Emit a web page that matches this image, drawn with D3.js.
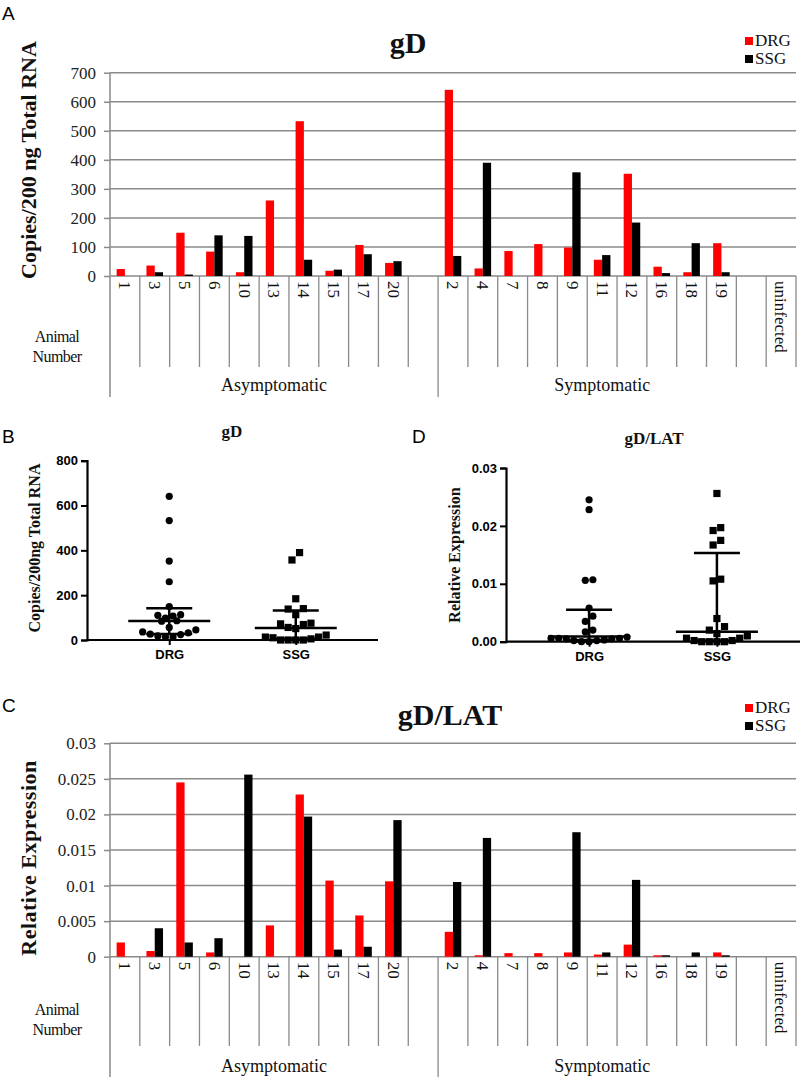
<!DOCTYPE html>
<html><head><meta charset="utf-8">
<script src="https://cdn.jsdelivr.net/npm/d3@7"></script>
<style>
html,body{margin:0;padding:0;background:#fff;}
svg{display:block;}
</style></head>
<body>
<svg id="chart" width="800" height="1077"></svg>
<script>
// ---------- DATA ----------
const animalLabels = ["1","3","5","6","10","13","14","15","17","20","","2","4","7","8","9","11","12","16","18","19","","uninfected"];
const groupNames = ["Asymptomatic","Symptomatic"];
const groupStart = [0, 11];
const groupEnd = [10, 21];
const seriesNames = ["DRG","SSG"];
const seriesColors = ["#ff0000","#000000"];

const gdDRG = [24,36,149,84,13,260,533,18,107,45,null,641,26,86,110,98,56,352,32,13,113,null,null];
const gdSSG = [0,13,5,140,138,0,56,22,75,51,null,69,390,0,0,357,72,184,10,113,13,null,null];
const latDRG = [0.002,0.0008,0.0245,0.0006,0,0.0044,0.0228,0.0107,0.0058,0.0106,null,0.0035,0.0002,0.0005,0.0005,0.0006,0.0003,0.0017,0.0002,0,0.0006,null,null];
const latSSG = [0,0.004,0.002,0.0026,0.0256,0,0.0197,0.001,0.0014,0.0192,null,0.0105,0.0167,0,0,0.0175,0.0006,0.0108,0.0002,0.0006,0.0002,null,null];

const gdTicks = [0,100,200,300,400,500,600,700];
const latTicks = [0,0.005,0.01,0.015,0.02,0.025,0.03];
const gdScatterTicks = [0,200,400,600,800];
const latScatterTicks = [0,0.01,0.02,0.03];

// median / interquartile range
const gdStatsDRG = [27, 85, 142];
const gdStatsSSG = [6, 54, 132];
const latStatsDRG = [0.0003, 0.0009, 0.0055];
const latStatsSSG = [0.0002, 0.0017, 0.0153];

// ---------- DRAW ----------
const svg = d3.select("#chart");
const SERIF = "'Liberation Serif','Times New Roman',serif";
const SANS = "'Liberation Sans',Arial,sans-serif";
const GRID = "#8a8a8a";

function panelLabel(t, x, y){
  svg.append("text").attr("x",x).attr("y",y).text(t)
    .attr("font-family",SANS).attr("font-size",19).attr("fill","#000");
}

function barPanel(o){
  const g = svg.append("g");
  const x = d3.scaleBand().domain(d3.range(animalLabels.length)).range([o.x0,o.x1]).padding(0);
  const xs = d3.scaleBand().domain(seriesNames).range([0,x.bandwidth()]).paddingInner(0).paddingOuter(0.8);
  const y = d3.scaleLinear().domain(o.domain).range([o.y0,o.yTop]);

  g.append("g").selectAll("line").data(o.ticks).join("line")
    .attr("x1",o.x0).attr("x2",o.x1).attr("y1",d=>y(d)).attr("y2",d=>y(d))
    .attr("stroke",GRID).attr("stroke-width",1.5);

  const ax = g.append("g").attr("transform",`translate(${o.x0},0)`)
    .call(d3.axisLeft(y).tickValues(o.ticks).tickSize(6).tickPadding(8).tickFormat(o.fmt));
  ax.attr("font-family",SERIF);
  ax.select(".domain").remove();
  ax.selectAll(".tick line").attr("stroke",GRID).attr("stroke-width",1.5);
  ax.selectAll(".tick text").attr("font-family",SERIF).attr("font-size",17).attr("fill","#222");
  g.append("line").attr("x1",o.x0).attr("x2",o.x0).attr("y1",o.yTop).attr("y2",o.groupBottom)
    .attr("stroke",GRID).attr("stroke-width",1.5);

  [o.drg, o.ssg].forEach((arr,si)=>{
    g.append("g").selectAll("rect").data(arr.map((v,i)=>({v,i})).filter(d=>d.v!==null && d.v>0)).join("rect")
      .attr("x",d=>x(d.i)+xs(seriesNames[si]))
      .attr("width",xs.bandwidth())
      .attr("y",d=>y(d.v))
      .attr("height",d=>y(0)-y(d.v))
      .attr("fill",seriesColors[si]);
  });

  const bounds = d3.range(1,animalLabels.length+1).map(i=> i<animalLabels.length ? x(i) : o.x1);
  g.append("g").selectAll("line").data(bounds).join("line")
    .attr("x1",d=>d).attr("x2",d=>d).attr("y1",o.y0)
    .attr("y2",(d,i)=> (i+1)===groupStart[1] ? o.groupBottom : o.colBottom)
    .attr("stroke",GRID).attr("stroke-width",1.3);

  g.append("g").selectAll("text").data(animalLabels.map((t,i)=>({t,i})).filter(d=>d.t)).join("text")
    .attr("transform",d=>`translate(${x(d.i)+x.bandwidth()/2},${o.y0+5}) rotate(90)`)
    .attr("dy","0.33em").attr("text-anchor","start")
    .attr("font-family",SERIF).attr("font-size",17).attr("fill","#111").text(d=>d.t);

  const an = g.append("text").attr("font-family",SERIF).attr("font-size",16).attr("fill","#111")
    .attr("text-anchor","middle").attr("letter-spacing","-0.6px");
  an.append("tspan").attr("x",57).attr("y",o.animalY).text("Animal");
  an.append("tspan").attr("x",57).attr("y",o.animalY+20).text("Number");

  g.append("g").selectAll("text").data(groupNames).join("text")
    .attr("x",(d,i)=>(x(groupStart[i]) + x(groupEnd[i])+x.bandwidth())/2)
    .attr("y",o.groupY).attr("text-anchor","middle")
    .attr("font-family",SERIF).attr("font-size",18).attr("fill","#111").text(d=>d);

  svg.append("text").attr("x",o.titleX).attr("y",o.titleY).attr("text-anchor","middle")
    .attr("font-family",SERIF).attr("font-weight","bold").attr("font-size",30).attr("fill","#111").text(o.title);

  svg.append("text").attr("transform",`translate(${o.ylabX},${o.ylabY}) rotate(-90)`)
    .attr("text-anchor","middle").attr("font-family",SERIF).attr("font-weight","bold")
    .attr("font-size",o.ylabSize).attr("letter-spacing",o.ylabSpacing||"0px").attr("fill","#111").text(o.ylab);

  const lg = svg.append("g").attr("transform",`translate(745,${o.legendY})`);
  seriesNames.forEach((s,i)=>{
    lg.append("rect").attr("x",0).attr("y",i*18).attr("width",8).attr("height",8).attr("fill",seriesColors[i]);
    lg.append("text").attr("x",10).attr("y",i*18+9).attr("font-family",SERIF).attr("font-size",17)
      .attr("fill","#111").text(s);
  });
}

barPanel({x0:110,x1:796,y0:276,yTop:72.7,domain:[0,700],ticks:gdTicks,fmt:d3.format("d"),
  drg:gdDRG,ssg:gdSSG,colBottom:367,groupBottom:397,animalY:342,groupY:391,
  title:"gD",titleX:408,titleY:53,ylab:"Copies/200 ng Total RNA",ylabX:36,ylabY:160,ylabSize:22,legendY:37});

barPanel({x0:110,x1:796,y0:956.7,yTop:743.3,domain:[0,0.03],ticks:latTicks,fmt:d=>d===0?"0":String(+d.toFixed(3)),
  drg:latDRG,ssg:latSSG,colBottom:1046,groupBottom:1077,animalY:1015,groupY:1072,
  title:"gD/LAT",titleX:450,titleY:725,ylab:"Relative Expression",ylabX:36,ylabY:858,ylabSize:22,ylabSpacing:"0.5px",legendY:704});

// ---------- scatter panels (Prism-like row layout) ----------
function rowLayout(vals, y, D){
  const pts = vals.map(v=>({v, y:y(v), x:0})).sort((a,b)=>a.v-b.v);
  const rows = [];
  let cur = null;
  pts.forEach(p=>{
    if(!cur || cur.y0 - p.y > D){ cur = {y0:p.y, pts:[]}; rows.push(cur); }
    cur.pts.push(p);
  });
  rows.forEach(rw=>{
    const n = rw.pts.length;
    // spread centre-out alternately
    const slots = d3.range(n).map(k=>(k-(n-1)/2)*D).sort((a,b)=>Math.abs(a)-Math.abs(b)||a-b);
    rw.pts.forEach((p,k)=>{ p.x = slots[k]; });
  });
  return pts;
}

function scatterPanel(o){
  const g = svg.append("g");
  const x = d3.scalePoint().domain(seriesNames).range([o.x0,o.x1]).padding(0.65);
  const y = d3.scaleLinear().domain(o.domain).range([o.y0,o.yTop]);
  const ax = g.append("g").attr("transform",`translate(${o.x0},0)`)
    .call(d3.axisLeft(y).tickValues(o.ticks).tickSize(6).tickPadding(3).tickFormat(o.fmt));
  ax.select(".domain").attr("stroke","#000").attr("stroke-width",2.2);
  ax.selectAll(".tick line").attr("stroke","#000").attr("stroke-width",2);
  ax.selectAll(".tick text").attr("font-family",SANS).attr("font-weight","bold").attr("font-size",13).attr("fill","#000");
  const bx = g.append("g").attr("transform",`translate(0,${o.y0})`)
    .call(d3.axisBottom(x).tickSize(5).tickPadding(5));
  bx.select(".domain").attr("d",`M${o.x0},0H${o.x1}`).attr("stroke","#000").attr("stroke-width",2.2);
  bx.selectAll(".tick line").attr("stroke","#000").attr("stroke-width",2);
  bx.selectAll(".tick text").attr("font-family",SANS).attr("font-weight","bold").attr("font-size",13).attr("fill","#000");

  const r = 3.6;
  [o.drg, o.ssg].forEach((arr,si)=>{
    const vals = arr.filter(v=>v!==null);
    const pts = rowLayout(vals, y, 7.6);
    const cx = x(seriesNames[si]);
    if(si===0){
      g.append("g").selectAll("circle").data(pts).join("circle")
        .attr("cx",d=>cx+d.x).attr("cy",d=>d.y).attr("r",r).attr("fill","#000");
    } else {
      g.append("g").selectAll("rect").data(pts).join("rect")
        .attr("x",d=>cx+d.x-r).attr("y",d=>d.y-r).attr("width",2*r).attr("height",2*r).attr("fill","#000");
    }
    const st = si===0 ? o.statsDRG : o.statsSSG;
    const eb = g.append("g").attr("stroke","#000").attr("stroke-width",2.5);
    eb.append("line").attr("x1",cx).attr("x2",cx).attr("y1",y(st[0])).attr("y2",y(st[2]));
    eb.append("line").attr("x1",cx-23).attr("x2",cx+23).attr("y1",y(st[0])).attr("y2",y(st[0]));
    eb.append("line").attr("x1",cx-23).attr("x2",cx+23).attr("y1",y(st[2])).attr("y2",y(st[2]));
    eb.append("line").attr("x1",cx-41).attr("x2",cx+41).attr("y1",y(st[1])).attr("y2",y(st[1]));
  });

  svg.append("text").attr("x",o.titleX).attr("y",o.titleY).attr("text-anchor","middle")
    .attr("font-family",SERIF).attr("font-weight","bold").attr("font-size",17).attr("fill","#111").text(o.title);
  svg.append("text").attr("transform",`translate(${o.ylabX},${o.ylabY}) rotate(-90)`)
    .attr("text-anchor","middle").attr("font-family",SERIF).attr("font-weight","bold")
    .attr("font-size",o.ylabSize).attr("fill","#111").text(o.ylab);
}

scatterPanel({x0:87,x1:378,y0:640,yTop:460.7,domain:[0,800],ticks:gdScatterTicks,fmt:d3.format("d"),
  drg:gdDRG,ssg:gdSSG,statsDRG:gdStatsDRG,statsSSG:gdStatsSSG,
  title:"gD",titleX:232,titleY:437,ylab:"Copies/200ng Total RNA",ylabX:40,ylabY:548,ylabSize:16});

scatterPanel({x0:506,x1:800,y0:641.7,yTop:468,domain:[0,0.03],ticks:latScatterTicks,fmt:d3.format(".2f"),
  drg:latDRG,ssg:latSSG,statsDRG:latStatsDRG,statsSSG:latStatsSSG,
  title:"gD/LAT",titleX:654,titleY:444,ylab:"Relative Expression",ylabX:460,ylabY:555,ylabSize:16});

panelLabel("A",2,20);
panelLabel("B",2,443);
panelLabel("C",2,712);
panelLabel("D",412,443);
</script>
</body></html>
